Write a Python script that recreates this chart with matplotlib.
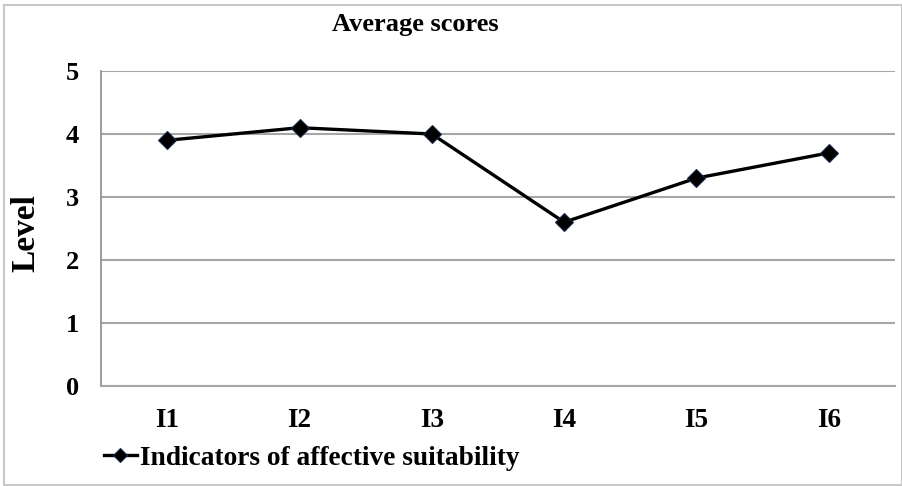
import matplotlib
matplotlib.use("Agg")
import matplotlib.pyplot as plt
from matplotlib.patches import Rectangle

categories = ["I1", "I2", "I3", "I4", "I5", "I6"]
scores = [3.9, 4.1, 4.0, 2.6, 3.3, 3.7]
series_name = "Indicators of affective suitability"

plt.rcParams["font.family"] = ["Liberation Serif", "DejaVu Serif"]
plt.rcParams["font.weight"] = "bold"

fig = plt.figure(figsize=(9.03, 4.86), dpi=100)
ax = fig.add_axes([101 / 903, 1 - 386 / 486, 794 / 903, 315 / 486])

x = list(range(len(categories)))
ax.plot(x, scores, color="black", linewidth=2.4, marker="D", markersize=9.5,
        markerfacecolor="black", markeredgecolor="#1a2a4a", markeredgewidth=0.8,
        label=series_name, zorder=3)

ax.set_xlim(-0.5, len(categories) - 0.5)
ax.set_ylim(0, 5)
ax.set_yticks(range(6))
ax.set_xticks(x)
ax.set_xticklabels(categories, fontsize=19.5, fontweight="bold")
ax.tick_params(axis="y", length=0, pad=16, labelsize=19)
ax.tick_params(axis="x", length=0, pad=16)
for lbl in ax.get_yticklabels():
    lbl.set_fontweight("bold")

ax.grid(axis="y", color="#a6a6a6", linewidth=1.5)
ax.set_axisbelow(True)
for side in ["top", "right"]:
    ax.spines[side].set_visible(False)
ax.spines["left"].set_color("#8c8c8c")
ax.spines["left"].set_linewidth(1.2)
ax.spines["bottom"].set_color("#a6a6a6")
ax.spines["bottom"].set_linewidth(1.5)

fig.text(26 / 903, 1 - 233 / 486, "Level", rotation=90, fontsize=24,
         fontweight="bold", ha="center", va="center")
fig.text(415 / 903, 1 - 25 / 486, "Average scores", fontsize=19,
         fontweight="bold", ha="center", va="center")

fig.legend(loc="center left", bbox_to_anchor=(104 / 903, 1 - 458 / 486),
           frameon=False, handlelength=1.2, handletextpad=0.1,
           borderpad=0, borderaxespad=0, markerscale=0.7,
           prop={"weight": "bold", "size": 19.7})

fig.patches.append(Rectangle((4 / 903, 1 / 486), 898 / 903, 480 / 486,
                             transform=fig.transFigure, fill=False,
                             edgecolor="#c8c8c8", linewidth=1.5))

fig.savefig("out.png", dpi=100)
